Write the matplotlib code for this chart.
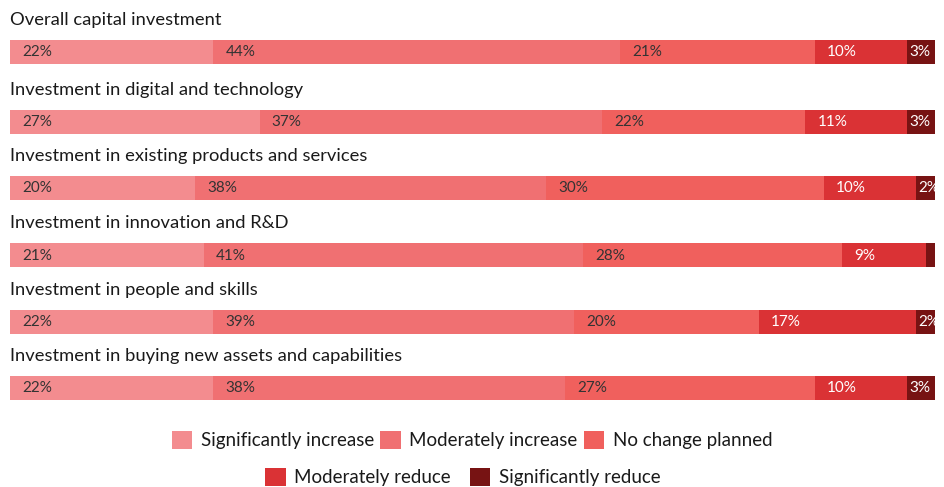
import matplotlib
matplotlib.use("Agg")
import matplotlib.pyplot as plt
from matplotlib.patches import Patch

categories = [
    "Overall capital investment",
    "Investment in digital and technology",
    "Investment in existing products and services",
    "Investment in innovation and R&D",
    "Investment in people and skills",
    "Investment in buying new assets and capabilities",
]
series_names = ["Significantly increase", "Moderately increase", "No change planned",
                "Moderately reduce", "Significantly reduce"]
sig_increase = [22, 27, 20, 21, 22, 22]
mod_increase = [44, 37, 38, 41, 39, 38]
no_change = [21, 22, 30, 28, 20, 27]
mod_reduce = [10, 11, 10, 9, 17, 10]
sig_reduce = [3, 3, 2, 1, 2, 3]
show_label = [[True] * 5, [True] * 5, [True] * 5, [True, True, True, True, False], [True] * 5, [True] * 5]

colors = ["#F38C8F", "#F07072", "#F0605D", "#DA3235", "#771313"]
text_colors = ["#333333", "#333333", "#333333", "#FFFFFF", "#FFFFFF"]

plt.rcParams['font.family'] = ['Lato', 'DejaVu Sans']

W, H = 945, 487
fig = plt.figure(figsize=(W / 100, H / 100), dpi=100)
ax = fig.add_axes([10 / W, 0, 925 / W, 1])
ax.set_xlim(0, 100)
ax.set_ylim(H, 0)
ax.axis('off')

centers = [52, 122, 188, 255, 322, 388]
bar_h = 24
series = [sig_increase, mod_increase, no_change, mod_reduce, sig_reduce]

for i, cat in enumerate(categories):
    left = 0
    for s, vals in enumerate(series):
        v = vals[i]
        ax.barh(centers[i], v, left=left, height=bar_h, color=colors[s], linewidth=0)
        if show_label[i][s]:
            ax.text(left + (0.2 if v < 5 else 1.3), centers[i] + 0.5, f"{v}%", ha='left', va='center',
                    fontsize=11, color=text_colors[s])
        left += v
    ax.text(0, centers[i] - 32, cat, ha='left', va='center', fontsize=13.2, color='#1a1a1a')

handles = [Patch(facecolor=c, edgecolor='none') for c in colors]
common = dict(loc='center', frameon=False, fontsize=13.5, handlelength=1.1, handleheight=1.1,
              handletextpad=0.45, borderpad=0)
leg1 = fig.legend(handles[:3], series_names[:3], bbox_to_anchor=(472 / W, 1 - 440 / H),
                  ncol=3, columnspacing=0.33, **common)
leg2 = fig.legend(handles[3:], series_names[3:], bbox_to_anchor=(463 / W, 1 - 477 / H),
                  ncol=2, columnspacing=1.0, **common)
for leg in (leg1, leg2):
    for t in leg.get_texts():
        t.set_color('#1a1a1a')

fig.savefig("out.png", dpi=100)
